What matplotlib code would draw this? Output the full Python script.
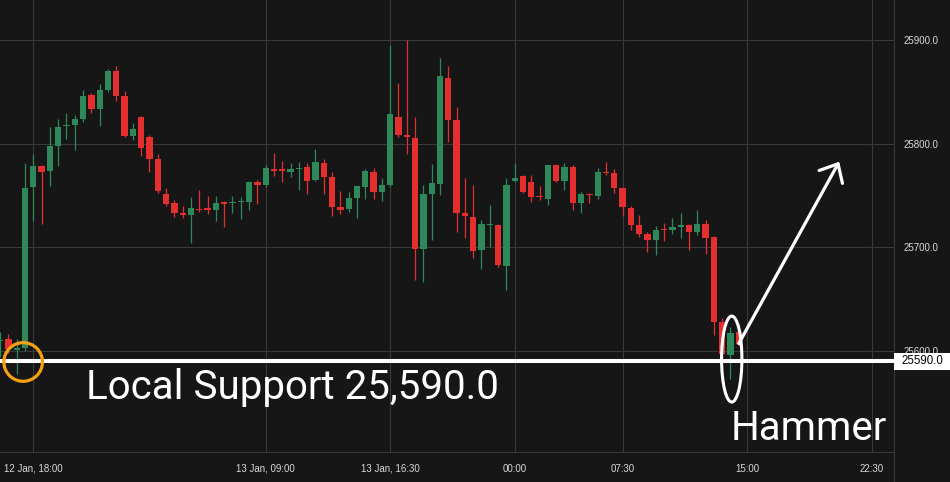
import matplotlib
matplotlib.use("Agg")
import matplotlib.pyplot as plt
from matplotlib.patches import Ellipse, Rectangle
from matplotlib.lines import Line2D

# ---- data (30-minute candles, index-based x axis) ----
opens = [25609.5, 25611, 25600.5, 25603, 25758, 25778, 25774, 25798, 25817, 25818,
         25824, 25847, 25833, 25852, 25870, 25846, 25807, 25826, 25806, 25785,
         25751, 25743, 25733, 25731, 25736, 25737.5, 25736, 25743, 25742.5, 25743.5,
         25744, 25763, 25760, 25775.5, 25775, 25772.5, 25775.5, 25777, 25765, 25781,
         25768, 25739, 25737, 25747.5, 25758, 25772.5, 25753, 25760, 25825.5, 25808,
         25805, 25698, 25751, 25761, 25863, 25823, 25733, 25729, 25697, 25721,
         25721.5, 25682, 25764, 25768.5, 25763, 25748.5, 25746.5, 25779, 25764, 25777.5,
         25742.5, 25751.5, 25749.5, 25772.5, 25771.5, 25757, 25738, 25721.5, 25712.5, 25707,
         25717.5, 25716.5, 25719.5, 25721.5, 25714.5, 25722.5, 25710, 25628, 25595.5, 25618]
highs = [25618, 25616, 25611, 25781, 25790, 25779.5, 25816, 25824, 25829.5, 25828,
         25852, 25849, 25857.5, 25872, 25875, 25851, 25820, 25827, 25808, 25790,
         25757, 25746, 25740, 25748.5, 25755, 25749, 25749, 25745, 25749, 25748.5,
         25764, 25765, 25779, 25791, 25783, 25781, 25782, 25781, 25795, 25785,
         25773, 25754, 25753, 25759.5, 25775.5, 25776.5, 25767, 25895.5, 25858.5, 25900,
         25826, 25760, 25780, 25882.5, 25875, 25835, 25767, 25760, 25726, 25741,
         25722, 25767, 25781, 25770, 25770, 25759, 25779.5, 25780, 25781, 25779,
         25753, 25752.5, 25776.5, 25782, 25775.5, 25757.5, 25740, 25731, 25714.5, 25720.5,
         25723.5, 25728, 25733, 25722, 25736, 25726, 25710.5, 25631.5, 25623, 25626]
lows = [25594, 25598, 25578, 25600, 25725, 25722, 25759, 25778, 25804, 25794,
        25821, 25830, 25817, 25850, 25841, 25806, 25803.5, 25788, 25773, 25752,
        25740, 25729, 25728, 25704, 25734, 25732, 25725, 25719.5, 25733, 25727,
        25736, 25742, 25758, 25769, 25763, 25768, 25755, 25751, 25764, 25751,
        25730, 25732, 25734, 25728, 25746.5, 25746.5, 25744.5, 25758, 25806, 25790,
        25668, 25666, 25707, 25750.5, 25801.5, 25715, 25709, 25689.5, 25679, 25700,
        25681, 25658.5, 25763, 25752, 25743.5, 25745.5, 25740.5, 25763, 25755, 25736,
        25733, 25742.5, 25746.5, 25769.5, 25752, 25730, 25716.5, 25710, 25695.5, 25692.5,
        25706, 25712.5, 25709, 25697, 25712, 25693.5, 25615, 25595, 25573, 25605]
closes = [25610.5, 25602, 25602.5, 25757, 25778, 25773, 25798, 25816, 25818, 25824,
          25846, 25833, 25852, 25870, 25846, 25807, 25814, 25796, 25785, 25754.5,
          25742, 25733, 25731.5, 25738, 25735.5, 25736, 25743, 25742, 25743, 25744,
          25763, 25760.5, 25776, 25774, 25774, 25775.5, 25776.5, 25764, 25782, 25768,
          25739, 25736, 25747.5, 25759, 25773.5, 25753, 25760, 25828.5, 25808, 25806.5,
          25698, 25751, 25762, 25865, 25823, 25733, 25730, 25696, 25722.5, 25722,
          25683, 25760, 25767, 25753, 25748.5, 25748, 25779, 25764, 25777.5, 25742.5,
          25751.5, 25750.5, 25772.5, 25771.5, 25757, 25739, 25721.5, 25712.5, 25707, 25716.5,
          25716.5, 25719.5, 25721.5, 25714.5, 25722.5, 25709, 25628, 25596.5, 25617.5, 25607]

tick_pos = [4, 32, 47, 62, 75, 90, 105]
tick_labels = ["12 Jan, 18:00", "13 Jan, 09:00", "13 Jan, 16:30", "00:00",
               "07:30", "15:00", "22:30"]
price_ticks = [25600, 25700, 25800, 25900]
support = 25590.0
support_text = "Local Support 25,590.0"
pattern_text = "Hammer"
hammer_idx = 88

# ---- style ----
BG = '#161616'
GRID = '#3a3a3a'
UP = '#2f8859'
DOWN = '#e42f2f'
TXT = '#d8d8d8'
W, H = 950, 482

fig = plt.figure(figsize=(W / 100, H / 100), dpi=100, facecolor=BG)
ax = fig.add_axes([0, 30 / H, 894 / W, 452 / H], facecolor=BG)

n = len(opens)
for i in range(n):
    o, h, l, c = opens[i], highs[i], lows[i], closes[i]
    col = UP if c >= o else DOWN
    ax.vlines(i, l, h, color=col, lw=0.9, zorder=2)
    ax.bar(i, max(abs(c - o), 1.2), bottom=min(o, c), width=0.76,
           color=col, linewidth=0, zorder=3)

ax.set_xlim(-0.012, 107.7)
ax.set_ylim(25502.3, 25938.6)

ax.yaxis.tick_right()
ax.set_yticks(price_ticks)
ax.set_yticklabels([f"{v:.1f}" for v in price_ticks])
ax.set_xticks(tick_pos)
ax.set_xticklabels(tick_labels)
ax.tick_params(axis='y', length=0, pad=7.0, labelsize=7, labelcolor=TXT)
ax.tick_params(axis='x', length=0, pad=8.5, labelsize=7, labelcolor=TXT)
for lab in ax.get_xticklabels() + ax.get_yticklabels():
    lab.set_family('Liberation Sans')

ax.grid(True, color=GRID, lw=0.8)
ax.set_axisbelow(True)
for s in ('top', 'left'):
    ax.spines[s].set_visible(False)
for s in ('bottom', 'right'):
    ax.spines[s].set_color(GRID)
    ax.spines[s].set_linewidth(0.8)
fig.add_artist(Line2D([894 / W, 894 / W], [0, 30 / H], transform=fig.transFigure,
                      color=GRID, lw=0.8))

# support line + price label
ax.axhline(support, color='white', lw=2.9, zorder=5)
fig.add_artist(Rectangle((894 / W, (H - 369.5) / H), 56 / W, 17 / H,
                         transform=fig.transFigure, facecolor='white',
                         edgecolor='none', zorder=10))
fig.text(922 / W, (H - 361) / H, f"{support:.1f}", ha='center', va='center',
         color='black', fontsize=8.3, family='Liberation Sans', zorder=11)

# orange circle at support touch
ax.add_patch(Ellipse((2.78, 25589.2), width=4.65, height=37.3, fill=False,
                     edgecolor='#f5a013', lw=2.3, zorder=6, clip_on=False))

# hammer ellipse
ax.add_patch(Ellipse((hammer_idx + 0.15, 25592), width=2.45, height=83, fill=False,
                     edgecolor='white', lw=2.2, zorder=6, clip_on=False))

# arrow
ax.annotate('', xy=(101.1, 25782.5), xytext=(89.0, 25607),
            arrowprops=dict(arrowstyle='->,head_length=0.54,head_width=0.48',
                            color='white', lw=2.3, shrinkA=0, shrinkB=0,
                            mutation_scale=20), zorder=7)

# texts
ax.text(10.4, 25553.5, support_text, fontsize=29, family='Roboto', color='white',
        ha='left', va='baseline', zorder=7)
ax.text(88.0, 25513.5, pattern_text, fontsize=29, family='Roboto', color='white',
        ha='left', va='baseline', zorder=7, clip_on=False)

fig.savefig('out.png', dpi=100, facecolor=BG)
